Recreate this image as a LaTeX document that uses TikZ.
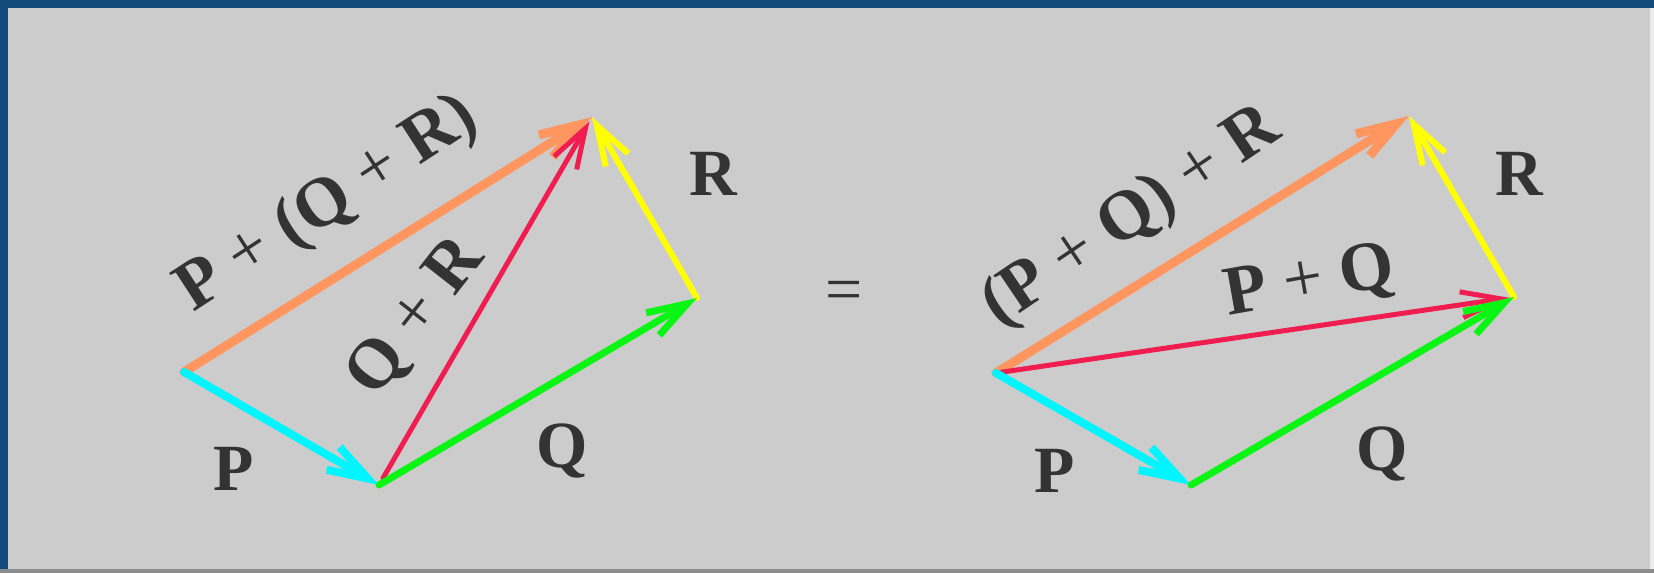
\documentclass[tikz,border=0pt]{standalone}
\usepackage{fontspec}
\setmainfont{Liberation Serif}[BoldFont={Liberation Serif Bold}]
\usetikzlibrary{arrows.meta}
\definecolor{bg}{RGB}{204,204,204}
\definecolor{frame}{RGB}{18,74,122}
\definecolor{vorange}{RGB}{255,150,95}
\definecolor{vcyan}{RGB}{0,245,255}
\definecolor{vgreen}{RGB}{10,245,20}
\definecolor{vred}{RGB}{240,30,80}
\definecolor{vyellow}{RGB}{255,255,0}
\newcommand{\pls}{{\mdseries\ +\ }}
\tikzset{
  vec/.style={-{Straight Barb[length=40pt,width=26pt]}, line cap=round, line join=round},
  lab/.style={font=\fontsize{66}{72}\selectfont\bfseries, text=black!80, inner sep=0pt},
  rlab/.style={lab, font=\fontsize{70}{76}\selectfont\bfseries},
}
\begin{document}
\begin{tikzpicture}[x=1pt,y=-1pt]
\useasboundingbox (0,0) rectangle (1654,573);
\fill[bg] (0,0) rectangle (1654,573);
\fill[frame] (0,0) rectangle (1654,8);
\fill[frame] (0,0) rectangle (8,573);
\fill[black!45] (0,569) rectangle (1654,573);
\fill[white!85!gray] (1650,8) rectangle (1654,569);
% left diagram
\coordinate (A) at (184,372);
\coordinate (B) at (379,485);
\coordinate (C) at (697,298);
\coordinate (D) at (592,117);
\draw[vec, vorange, line width=9pt] (A) -- (D);
\draw[vec, vred, line width=5pt, shorten <=8pt, shorten >=5pt] (B) -- (D);
\draw[vec, vyellow, line width=6pt] (C) -- (D);
\draw[vec, vcyan, line width=8pt] (A) -- (B);
\draw[vec, vgreen, line width=7pt] (B) -- (C);
\node[lab] (lP) at (234,469) {P};
\node[lab] (lQ) at (562,451) {Q};
\node[lab] (lR) at (713,174) {R};
\node[rlab, rotate=33] (lPQR) at (328,205) {P\pls(Q\pls R)};
\node[rlab, rotate=52] (lQR) at (417,318) {Q\pls R};
% equals
\node[font=\fontsize{66}{72}\selectfont, text=black!80, inner sep=0pt] (eq) at (844,296) {=};
% right diagram
\coordinate (A2) at (996,373);
\coordinate (B2) at (1191,485);
\coordinate (C2) at (1514,297);
\coordinate (D2) at (1409,116);
\draw[vec, vorange, line width=9pt] (A2) -- (D2);
\draw[vec, vred, line width=5pt, shorten >=5pt] (A2) -- (C2);
\draw[vec, vyellow, line width=6pt] (C2) -- (D2);
\draw[vec, vcyan, line width=8pt] (A2) -- (B2);
\draw[vec, vgreen, line width=7pt] (B2) -- (C2);
\node[lab] (rP) at (1055,471) {P};
\node[lab] (rQ) at (1382,454) {Q};
\node[lab] (rR) at (1519,174) {R};
\node[rlab, rotate=34] (rPQR) at (1132,218) {(P\pls Q)\pls R};
\node[rlab, rotate=10] (rPQ) at (1310,283) {P\pls Q};
\end{tikzpicture}
\end{document}
